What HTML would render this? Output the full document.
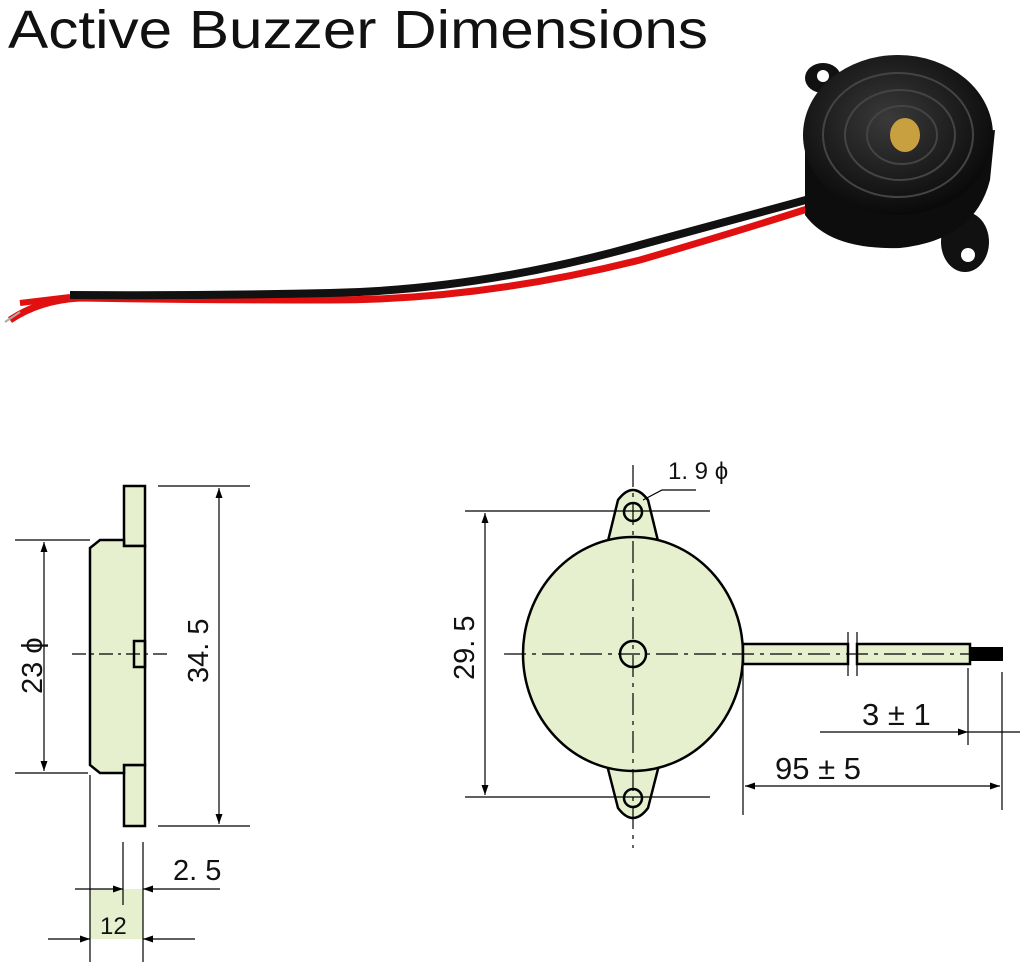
<!DOCTYPE html>
<html><head><meta charset="utf-8"><style>
html,body{margin:0;padding:0;background:#fff;}
svg{display:block;}
</style></head><body>
<svg width="1024" height="969" viewBox="0 0 1024 969" xmlns="http://www.w3.org/2000/svg" font-family="Liberation Sans, sans-serif">
<defs>
<marker id="a" viewBox="0 0 10 10" refX="10" refY="5" markerWidth="10" markerHeight="10" orient="auto-start-reverse" markerUnits="userSpaceOnUse"><path d="M0,1.5 L10,5 L0,8.5z" fill="#000"/></marker>
<radialGradient id="g" cx="0.45" cy="0.4" r="0.6"><stop offset="0" stop-color="#3a3a3a"/><stop offset="1" stop-color="#0a0a0a"/></radialGradient>
</defs>
<text x="8" y="48" font-size="54" fill="#111" textLength="700" lengthAdjust="spacingAndGlyphs">Active Buzzer Dimensions</text>

<!-- photo -->
<path d="M10,320 Q40,300 80,298 Q200,300 330,300 Q480,300 640,260 Q760,225 850,195" fill="none" stroke="#e01010" stroke-width="7"/>
<path d="M70,295 Q200,296 330,293 Q480,290 640,245 Q760,212 850,188" fill="none" stroke="#111" stroke-width="8"/>
<path d="M20,303 L70,297" stroke="#e01010" stroke-width="6"/>
<path d="M5,322 L20,312" stroke="#aaa" stroke-width="2"/>
<ellipse cx="823" cy="78" rx="18" ry="15" fill="#111"/>
<ellipse cx="965" cy="242" rx="24" ry="30" fill="#111"/>
<circle cx="823" cy="76" r="6" fill="#fff"/>
<circle cx="968" cy="255" r="7" fill="#fff"/>
<path d="M805,150 L805,215 Q830,250 900,248 Q975,240 990,180 L995,130 Z" fill="#0d0d0d"/>
<ellipse cx="898" cy="135" rx="95" ry="80" fill="url(#g)"/>
<ellipse cx="898" cy="135" rx="75" ry="62" fill="none" stroke="#444" stroke-width="2"/>
<ellipse cx="900" cy="135" rx="55" ry="45" fill="none" stroke="#444" stroke-width="2"/>
<ellipse cx="902" cy="135" rx="35" ry="29" fill="none" stroke="#444" stroke-width="2"/>
<ellipse cx="905" cy="135" rx="15" ry="17" fill="#c9a040"/>

<!-- left drawing -->
<g stroke="#000" fill="#e6f0cf" stroke-width="2.5">
<rect x="124" y="486" width="21" height="60"/>
<rect x="124" y="765" width="21" height="61"/>
<path d="M100,540 L124,540 L124,546 L145,546 L145,765 L124,765 L124,773 L100,773 L90,765 L90,548 Z"/>
<rect x="134" y="641" width="11" height="26" fill="none"/>
<rect x="90" y="889" width="53" height="50" stroke="none"/>
</g>
<g stroke="#000" stroke-width="1.2" fill="none">
<line x1="72" y1="654" x2="170" y2="654" stroke-dasharray="14,5,3,5"/>
<line x1="158" y1="486" x2="250" y2="486"/><line x1="158" y1="826" x2="250" y2="826"/>
<line x1="219" y1="488" x2="219" y2="824" marker-start="url(#a)" marker-end="url(#a)"/>
<line x1="15" y1="540" x2="90" y2="540"/><line x1="15" y1="773" x2="88" y2="773"/>
<line x1="44" y1="542" x2="44" y2="771" marker-start="url(#a)" marker-end="url(#a)"/>
<line x1="90" y1="775" x2="90" y2="962"/>
<line x1="123" y1="842" x2="123" y2="905"/>
<line x1="143" y1="842" x2="143" y2="962"/>
<line x1="75" y1="889" x2="123" y2="889" marker-end="url(#a)"/>
<line x1="220" y1="889" x2="143" y2="889" marker-end="url(#a)"/>
<line x1="48" y1="939" x2="90" y2="939" marker-end="url(#a)"/>
<line x1="195" y1="939" x2="143" y2="939" marker-end="url(#a)"/>
</g>
<g font-size="29" fill="#111">
<text transform="translate(208,683) rotate(-90)">34. 5</text>
<text transform="translate(42,694) rotate(-90)">23 ϕ</text>
<text x="173" y="880">2. 5</text>
<text x="100" y="934" font-size="24">12</text>
</g>

<!-- right drawing -->
<g stroke="#000" stroke-width="2.5" fill="#e6f0cf">
<path d="M607,545 L618,500 Q633,480 648,500 L659,545 Z"/>
<path d="M607,765 L618,808 Q633,828 648,808 L659,765 Z"/>
<ellipse cx="633" cy="654" rx="110" ry="117"/>
<rect x="743" y="644" width="105" height="20"/>
<rect x="857" y="644" width="113" height="20"/>
<circle cx="633" cy="512" r="9"/>
<circle cx="633" cy="798" r="9"/>
<circle cx="633" cy="654" r="13"/>
</g>
<rect x="970" y="647" width="33" height="14" fill="#000"/>
<g stroke="#000" stroke-width="1.2" fill="none">
<line x1="848" y1="632" x2="848" y2="676"/><line x1="857" y1="632" x2="857" y2="676"/>
<line x1="504" y1="654" x2="970" y2="654" stroke-dasharray="22,6,4,6"/>
<line x1="633" y1="465" x2="633" y2="848" stroke-dasharray="22,6,4,6"/>
<line x1="465" y1="511" x2="710" y2="511"/><line x1="465" y1="797" x2="710" y2="797"/>
<line x1="485" y1="513" x2="485" y2="795" marker-start="url(#a)" marker-end="url(#a)"/>
<path d="M643,500 L662,490 L696,490"/>
<line x1="743" y1="666" x2="743" y2="815"/>
<line x1="1002" y1="672" x2="1002" y2="810"/>
<line x1="745" y1="786" x2="1000" y2="786" marker-start="url(#a)" marker-end="url(#a)"/>
<line x1="968" y1="668" x2="968" y2="745"/>
<line x1="820" y1="732" x2="968" y2="732" marker-end="url(#a)"/>
<line x1="968" y1="732" x2="1020" y2="732"/>
</g>
<g font-size="29" fill="#111">
<text transform="translate(474,680) rotate(-90)">29. 5</text>
<text x="668" y="479" font-size="24">1. 9 ϕ</text>
<text x="775" y="779" font-size="31">95 ± 5</text>
<text x="862" y="725" font-size="31">3 ± 1</text>
</g>
</svg>
</body></html>
